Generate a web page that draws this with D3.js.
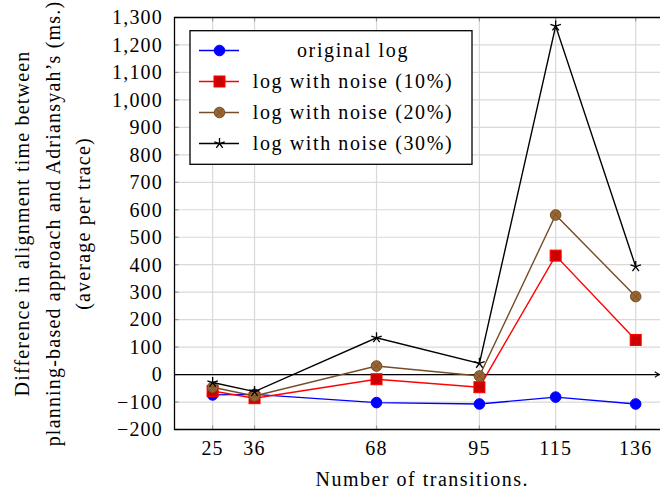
<!DOCTYPE html>
<html>
<head>
<meta charset="utf-8">
<script src="https://cdn.jsdelivr.net/npm/d3@7"></script>
<style>
  body { margin: 0; background: #fff; }
</style>
</head>
<body>
<div id="chart-area"></div>
<script>
// values
const transitions = [25, 36, 68, 95, 115, 136];
const originalLog = [-74, -72, -102, -107, -82, -107];
const noise10 = [-60, -86, -17, -46, 433, 126];
const noise20 = [-46, -78, 31, -5, 581, 284];
const noise30 = [-29, -62, 134, 41, 1269, 393];
const yTicks = [-200, -100, 0, 100, 200, 300, 400, 500, 600, 700, 800, 900, 1000, 1100, 1200, 1300];
const seriesNames = ['original log', 'log with noise (10%)', 'log with noise (20%)', 'log with noise (30%)'];

const width = 660;
const height = 492;
const plotL = 174.5, plotT = 17.5, plotB = 429.5, plotR = 670;
const serif = 'Liberation Serif';   // stays serif at 20px, falls back to sans when bigger

const series = [
    {name: seriesNames[0], values: originalLog, line: '#0000ff', fill: '#0000ff', mark: 'circle'},
    {name: seriesNames[1], values: noise10, line: '#ff0000', fill: '#cc0000', mark: 'square'},
    {name: seriesNames[2], values: noise20, line: '#734d26', fill: '#996633', mark: 'otimes'},
    {name: seriesNames[3], values: noise30, line: '#000000', fill: '#000000', mark: 'star'}
];

const svg = d3.select('#chart-area').append('svg')
    .attr('width', width)
    .attr('height', height)
    .attr('font-family', serif);

svg.append('rect').attr('width', width).attr('height', height).attr('fill', '#fff');

const x = d3.scaleLinear().domain([15, 145]).range([plotL, plotR]);
const y = d3.scaleLinear().domain([-200, 1300]).range([plotB, plotT]);

// grid
svg.append('g').selectAll('line')
    .data(yTicks)
    .join('line')
    .attr('x1', plotL).attr('x2', plotR)
    .attr('y1', d => y(d)).attr('y2', d => y(d))
    .attr('stroke', '#d9d9d9').attr('stroke-width', 1.2);
svg.append('g').selectAll('line')
    .data(transitions)
    .join('line')
    .attr('x1', d => x(d)).attr('x2', d => x(d))
    .attr('y1', plotT).attr('y2', plotB)
    .attr('stroke', '#d9d9d9').attr('stroke-width', 1.2);

// tick marks (inside)
const tickCol = '#9a9a9a';
svg.append('g').selectAll('line')
    .data(yTicks)
    .join('line')
    .attr('x1', plotL).attr('x2', plotL + 4)
    .attr('y1', d => y(d)).attr('y2', d => y(d))
    .attr('stroke', tickCol).attr('stroke-width', 1.2);
svg.append('g').selectAll('line')
    .data(transitions)
    .join('line')
    .attr('x1', d => x(d)).attr('x2', d => x(d))
    .attr('y1', plotB).attr('y2', plotB - 4)
    .attr('stroke', tickCol).attr('stroke-width', 1.2);
svg.append('g').selectAll('line')
    .data(transitions)
    .join('line')
    .attr('x1', d => x(d)).attr('x2', d => x(d))
    .attr('y1', plotT).attr('y2', plotT + 4)
    .attr('stroke', tickCol).attr('stroke-width', 1.2);

// frame
svg.append('path')
    .attr('d', `M${plotR},${plotT}H${plotL}V${plotB}H${plotR}`)
    .attr('fill', 'none').attr('stroke', '#000').attr('stroke-width', 1.3);

// zero line with arrow
svg.append('defs').append('marker')
    .attr('id', 'arrow')
    .attr('viewBox', '0 0 10 10')
    .attr('refX', 8).attr('refY', 5)
    .attr('markerWidth', 7).attr('markerHeight', 7)
    .attr('markerUnits', 'userSpaceOnUse')
    .attr('orient', 'auto')
    .append('path')
    .attr('d', 'M2,1 Q6,4 9,5 Q6,6 2,9')
    .attr('fill', 'none').attr('stroke', '#000').attr('stroke-width', 1.6);
svg.append('line')
    .attr('x1', plotL).attr('x2', 659)
    .attr('y1', y(0)).attr('y2', y(0))
    .attr('stroke', '#000').attr('stroke-width', 1.3)
    .attr('marker-end', 'url(#arrow)');

// tick labels
svg.append('g').selectAll('text')
    .data(yTicks)
    .join('text')
    .attr('x', 163).attr('y', d => y(d))
    .attr('dy', '0.34em')
    .attr('text-anchor', 'end')
    .attr('font-size', 20)
    .attr('letter-spacing', 1.2)
    .text(d => d3.format(',')(d).replace('-', '\u2212'));
svg.append('g').selectAll('text')
    .data(transitions)
    .join('text')
    .attr('x', d => x(d)).attr('y', 455)
    .attr('text-anchor', 'middle')
    .attr('font-size', 20)
    .attr('letter-spacing', 1.2)
    .text(d => d);

// axis labels
svg.append('text')
    .attr('x', (plotL + plotR) / 2).attr('y', 486)
    .attr('text-anchor', 'middle')
    .attr('font-size', 20)
    .attr('letter-spacing', 1.5)
    .text('Number of transitions.');

const yLabel = ['Difference in alignment time between',
    'planning-based approach and Adriansyah\u2019s (ms.)',
    '(average per trace)'];
svg.append('g')
    .attr('transform', `translate(0,${(plotT + plotB) / 2}) rotate(-90)`)
    .selectAll('text')
    .data(yLabel)
    .join('text')
    .attr('x', 0).attr('y', (d, i) => 29 + i * 30.5)
    .attr('text-anchor', 'middle')
    .attr('font-size', 20)
    .attr('letter-spacing', 1.2)
    .text(d => d);

// markers
const drawMark = (g, s, cx, cy) => {
    if (s.mark === 'circle') {
        g.append('circle').attr('cx', cx).attr('cy', cy).attr('r', 5.3)
            .attr('fill', s.fill).attr('stroke', s.line).attr('stroke-width', 1);
    } else if (s.mark === 'square') {
        g.append('rect').attr('x', cx - 5.5).attr('y', cy - 5.5)
            .attr('width', 11).attr('height', 11)
            .attr('fill', s.fill).attr('stroke', s.line).attr('stroke-width', 1);
    } else if (s.mark === 'otimes') {
        const r = 5.3, k = r * Math.SQRT1_2;
        g.append('circle').attr('cx', cx).attr('cy', cy).attr('r', r)
            .attr('fill', s.fill).attr('stroke', s.line).attr('stroke-width', 1);
        g.append('path')
            .attr('d', `M${cx - k},${cy - k}L${cx + k},${cy + k}M${cx - k},${cy + k}L${cx + k},${cy - k}`)
            .attr('stroke', s.line).attr('stroke-width', 0.8);
    } else {
        const r = 5.5;
        let d = '';
        for (let i = 0; i < 5; i++) {
            const a = -Math.PI / 2 + i * 2 * Math.PI / 5;
            d += `M${cx},${cy}L${cx + r * Math.cos(a)},${cy + r * Math.sin(a)}`;
        }
        g.append('path').attr('d', d).attr('stroke', s.line).attr('stroke-width', 1.3)
            .attr('fill', 'none');
    }
};

const line = d3.line()
    .x((d, i) => x(transitions[i]))
    .y(d => y(d));

series.forEach(s => {
    const g = svg.append('g');
    g.append('path')
        .attr('d', line(s.values))
        .attr('fill', 'none')
        .attr('stroke', s.line)
        .attr('stroke-width', 1.4);
    s.values.forEach((v, i) => drawMark(g, s, x(transitions[i]), y(v)));
});

// legend
const legend = svg.append('g');
legend.append('rect')
    .attr('x', 190).attr('y', 30.7)
    .attr('width', 282).attr('height', 133.6)
    .attr('fill', '#fff').attr('stroke', '#000').attr('stroke-width', 1.3);
series.forEach((s, i) => {
    const ly = 50.5 + i * 31;
    legend.append('line')
        .attr('x1', 199).attr('x2', 239)
        .attr('y1', ly).attr('y2', ly)
        .attr('stroke', s.line).attr('stroke-width', 1.4);
    drawMark(legend, s, 219.5, ly);
    legend.append('text')
        .attr('x', 353).attr('y', ly)
        .attr('dy', '0.32em')
        .attr('text-anchor', 'middle')
        .attr('font-size', 20)
        .attr('letter-spacing', 1.6)
        .text(s.name);
});
</script>
</body>
</html>
